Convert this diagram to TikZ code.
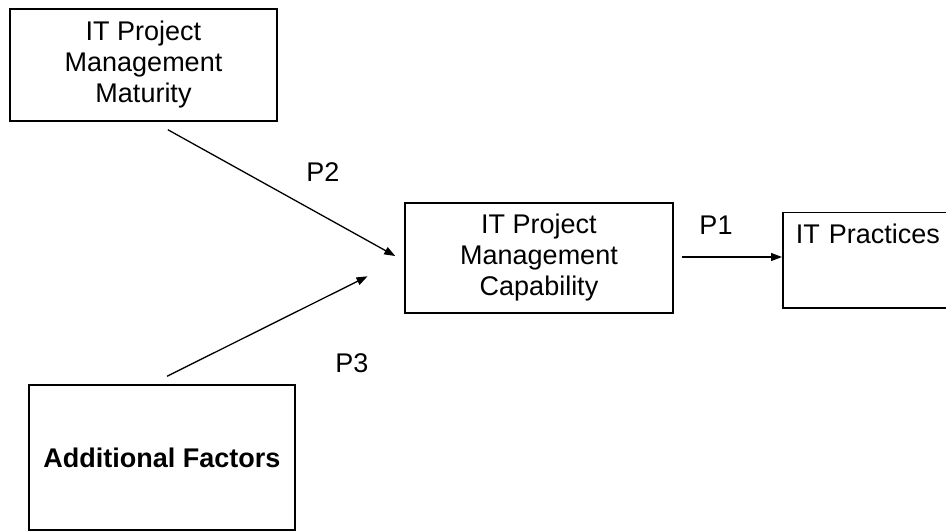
\documentclass[tikz,border=0pt]{standalone}
\usepackage{fontspec}
\setmainfont{Liberation Sans}
\usetikzlibrary{arrows.meta}
\begin{document}
\begin{tikzpicture}[x=1pt, y=-1pt,
    txt/.style={font=\fontsize{27}{31}\selectfont},
    box/.style={draw, line width=1.5pt, inner sep=0pt, align=center, txt},
    link/.style={line width=1.3pt, -{Triangle[length=11pt,width=8pt]}}]
    \useasboundingbox (0,0) rectangle (946,531);
    \clip (0,0) rectangle (946,531);

    \node [box, minimum width=267pt, minimum height=112pt] (mat) at (143.5,65) {IT Project\\Management\\Maturity};
    \node [box, minimum width=268pt, minimum height=110pt] (cap) at (539,258) {IT Project\\Management\\Capability};
    \node [box, anchor=north west, align=left, text width=224pt, inner xsep=13pt, inner ysep=11.5pt,
           text height=20pt, text depth=52.5pt] (prac) at (782,211.5) {IT Practices};
    \node [box, minimum width=266pt, minimum height=145pt, font=\fontsize{27}{31}\selectfont\bfseries] (add) at (162,457.5) {Additional Factors};

    \draw [link, shorten <=16.4pt, shorten >=10.3pt] ([xshift=10pt]mat.south) -- ([yshift=-3pt]cap.west);
    \draw [link, shorten <=18pt, shorten >=41pt] ([xshift=-11pt]add.north) -- (cap.west);
    \draw [link, shorten <=8pt] ([yshift=1pt]cap.east) -- ([yshift=1pt]cap.east -| prac.west);

    \node [txt] (p1) at (716,225) {P1};
    \node [txt] (p2) at (323,172) {P2};
    \node [txt] (p3) at (352,363) {P3};
\end{tikzpicture}
\end{document}
